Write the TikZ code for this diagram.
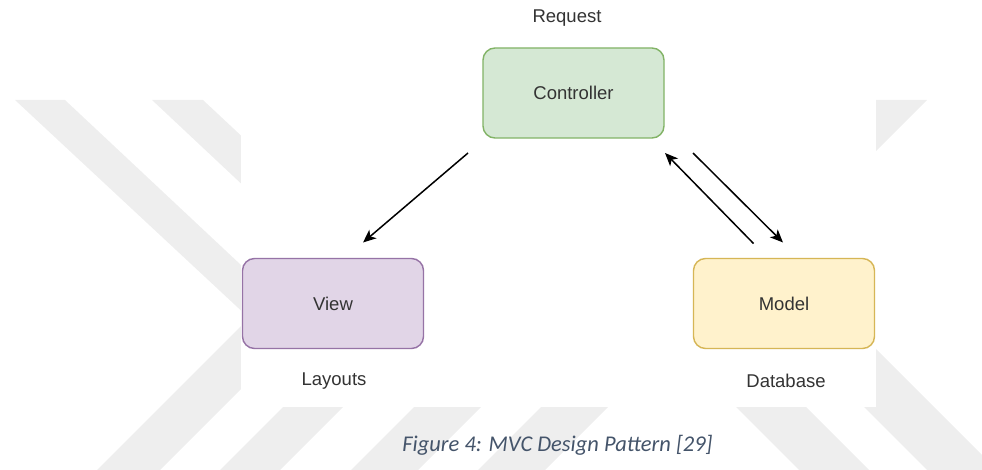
\documentclass[tikz,border=0pt]{standalone}
\usepackage{fontspec}
\setmainfont{Liberation Sans}
\newfontfamily\capfont{Carlito}
\usetikzlibrary{arrows.meta,calc}
\definecolor{wm}{HTML}{EEEEEE}
\definecolor{txt}{HTML}{333333}
\definecolor{capcol}{HTML}{44546A}
\definecolor{gfill}{HTML}{D5E8D4}\definecolor{gline}{HTML}{82B366}
\definecolor{pfill}{HTML}{E1D5E7}\definecolor{pline}{HTML}{9673A6}
\definecolor{yfill}{HTML}{FFF2CC}\definecolor{yline}{HTML}{D6B656}
\tikzset{
  box/.style={rectangle, rounded corners=12pt, minimum width=181pt, minimum height=90pt,
    line width=1.4pt, outer sep=0pt, text=txt, font=\fontsize{18.5}{22}\selectfont},
  lbl/.style={text=txt, font=\fontsize{18.5}{22}\selectfont, inner sep=0pt},
  arr/.style={line width=1.5pt, -{Stealth[length=13pt,width=11pt,inset=3.5pt]}},
  band/.style={fill=wm}
}
\begin{document}
\begin{tikzpicture}[x=1pt,y=-1pt]
\useasboundingbox (0,0) rectangle (982,470);
% background stripes
\begin{scope}
  \clip (0,100) rectangle (982,470);
  \fill[band] (15,100) -- (65,100) -- (305,325) -- (150,480) -- (87,480) -- (249,318) -- cycle;
  \fill[band] (152,100) -- (203,100) -- (434,316) -- (270,480) -- (210,480) -- (378,312) -- cycle;
  \fill[band] (521,300) -- (588,300) -- (408,480) -- (341,480) -- cycle;
  \fill[band] (648,300) -- (715,300) -- (535,480) -- (468,480) -- cycle;
  \fill[band] (629,300) -- (699,300) -- (879,480) -- (809,480) -- cycle;
  \fill[band] (757,300) -- (827,300) -- (1007,480) -- (937,480) -- cycle;
  \fill[band] (870,100) -- (927,100) -- (827,200) -- (770,200) -- cycle;
\end{scope}
\fill[white] (241,0) rectangle (876,407);
% diagram
\node[box, fill=gfill, draw=gline] (ctrl) at (573.5,93) {Controller};
\node[box, fill=pfill, draw=pline] (view) at (333,303.5) {View};
\node[box, fill=yfill, draw=yline] (model) at (784,303.5) {Model};
\node[lbl] (req) at (567,18) {Request};
\node[lbl] (lay) at (334,381) {Layouts};
\node[lbl] (db) at (786,381) {Database};
\draw[arr] ($(ctrl.south west)+(-15,15)$) -- ($(view.north)+(30,-16)$);
\draw[arr] ($(model.north west)+(60,-15)$) -- ($(ctrl.south east)+(1,15)$);
\draw[arr] ($(ctrl.south east)+(29,15)$) -- ($(model.north)+(-1,-16)$);
\node[inner sep=0pt, text=capcol, font=\capfont\itshape\fontsize{22.5}{26}\selectfont] (cap) at (557.5,445) {Figure 4: MVC Design Pattern [29]};
\end{tikzpicture}
\end{document}
